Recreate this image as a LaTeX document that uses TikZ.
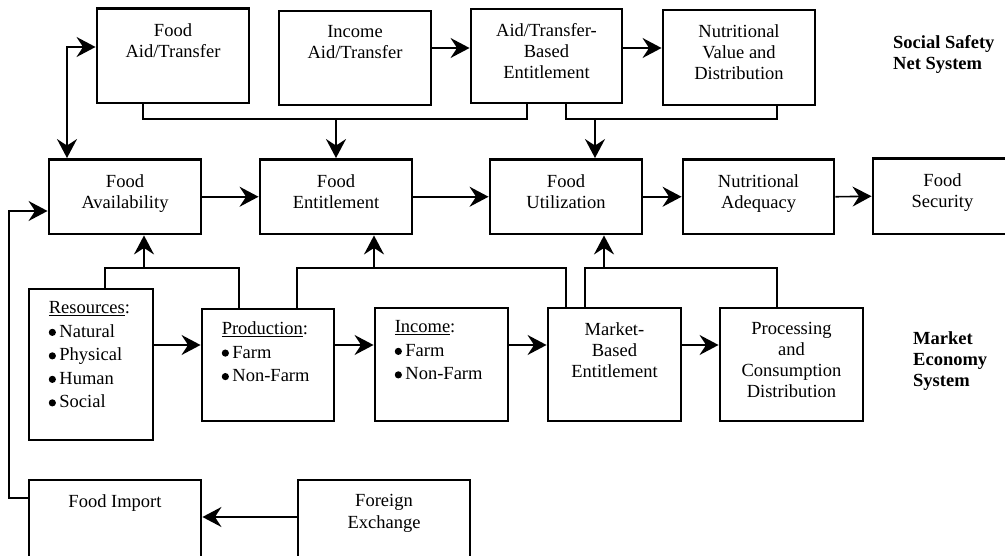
\documentclass[tikz,border=0pt]{standalone}
\usepackage{fontspec}
\setmainfont{Liberation Serif}
\usetikzlibrary{arrows.meta,calc,fit}
\newcommand\boxfont{\fontsize{18.5}{21}\selectfont}
\newcommand\listfont{\fontsize{18.5}{23.5}\selectfont}
\newcommand\bul{\tikz[baseline=-5pt]\fill (0,0) circle (3.6pt);\hspace{3.5pt}}
\tikzset{
  box/.style={draw, line width=2.9pt, inner sep=0pt},
  txt/.style={align=center, inner sep=0pt, anchor=north, font=\boxfont},
  ltxt/.style={align=left, inner sep=0pt, anchor=north west, font=\listfont},
  lbl/.style={align=left, inner sep=0pt, anchor=north west, font=\boxfont\bfseries},
  conn/.style={line width=1.6pt},
  tip/.tip={Stealth[length=19pt,width=20pt,inset=6.5pt]},
  arr/.style={conn, -tip},
  darr/.style={conn, tip-tip},
}
\newcommand\mybox[6]{%
  \node[box, fit={(#2,#3) (#4,#5)}] (#1) {};
  \node[txt] (#1t) at ($(#1.north)+(0,16)$) {#6};}
\begin{document}
\begin{tikzpicture}[x=1pt,y=-1pt]
\useasboundingbox (0,0) rectangle (1005,556);
\clip (0,0) rectangle (1005,556);
% top row
\mybox{fa}{97}{8.5}{249}{103}{Food\\Aid/Transfer}
\mybox{ia}{279}{11}{431}{105}{Income\\Aid/Transfer}
\mybox{atb}{471}{9}{622}{103}{Aid/Transfer-\\Based\\Entitlement}
\mybox{nv}{663}{10}{815}{105}{Nutritional\\Value and\\Distribution}
% middle row
\mybox{fav}{49}{159.5}{201}{234}{Food\\Availability}
\mybox{fen}{260}{159.5}{412}{234}{Food\\Entitlement}
\mybox{fu}{490}{159.5}{642}{234}{Food\\Utilization}
\mybox{na}{683}{159.5}{834}{234}{Nutritional\\Adequacy}
\mybox{fs}{873}{158.5}{1012}{234}{Food\\Security}
% market row
\node[box, fit={(29,289) (153,440)}] (res) {};
\node[ltxt] (rest) at ($(res.north west)+(21,14)$) {\underline{Resources}:\\\bul Natural\\\bul Physical\\\bul Human\\\bul Social};
\node[box, fit={(202,309) (334,421)}] (prod) {};
\node[ltxt] (prodt) at ($(prod.north west)+(21,14)$) {\underline{Production}:\\\bul Farm\\\bul Non-Farm};
\node[box, fit={(375,308) (508,421)}] (inc) {};
\node[ltxt] (inct) at ($(inc.north west)+(21,14)$) {\underline{Income}:\\\bul Farm\\\bul Non-Farm};
\mybox{mbe}{548}{308}{681}{421}{Market-\\Based\\Entitlement}
\mybox{proc}{720}{308}{863}{421}{Processing\\and\\Consumption\\Distribution}
% bottom row
\mybox{fi}{29}{480}{201}{570}{Food Import}
\mybox{fx}{298}{480}{470}{570}{Foreign\\Exchange}
% system labels
\node[lbl] (ssn) at (893,35) {Social Safety\\Net System};
\node[lbl] (mes) at (913,331) {Market\\Economy\\System};
% connectors: social safety net
\coordinate (c1) at (67,47);
\draw[darr] (fa.west |- c1) -- (c1) -- (c1 |- fav.north);
\coordinate (j1) at (143,119);
\coordinate (j2) at (527,119);
\draw[conn] (j1 |- fa.south) -- (j1) -- (j2) -- (j2 |- atb.south);
\draw[arr] (fen.north |- j1) -- (fen.north);
\coordinate (j3) at (566,119);
\coordinate (j4) at (777,119);
\draw[conn] (j3 |- atb.south) -- (j3) -- (j4) -- (j4 |- nv.south);
\coordinate (j5) at (595,119);
\draw[arr] (j5) -- (j5 |- fu.north);
\coordinate (r1) at (0,48);
\draw[arr] (ia.east |- r1) -- (atb.west |- r1);
\draw[arr] (atb.east |- r1) -- (nv.west |- r1);
% middle row
\draw[arr] (fav.east) -- (fen.west);
\draw[arr] (fen.east) -- (fu.west);
\draw[arr] (fu.east) -- (na.west);
\draw[arr] (na.east) -- (fs.west);
% import feedback
\coordinate (k1) at (9,498);
\coordinate (k2) at (9,211);
\draw[arr] (fi.west |- k1) -- (k1) -- (k2) -- (fav.west |- k2);
\coordinate (f1) at (0,517);
\draw[arr] (fx.west |- f1) -- (fi.east |- f1);
% market economy connectors
\coordinate (m1) at (105,268);
\coordinate (m2) at (239,268);
\draw[conn] (m1 |- res.north) -- (m1) -- (m2) -- (m2 |- prod.north);
\coordinate (m3) at (144,268);
\draw[arr] (m3) -- (m3 |- fav.south);
\coordinate (m4) at (297,268);
\coordinate (m5) at (566,268);
\draw[conn] (m4 |- prod.north) -- (m4) -- (m5) -- (m5 |- mbe.north);
\coordinate (m6) at (374,268);
\draw[arr] (m6) -- (m6 |- fen.south);
\coordinate (m7) at (585,268);
\coordinate (m8) at (777,268);
\draw[conn] (m7 |- mbe.north) -- (m7) -- (m8) -- (m8 |- proc.north);
\coordinate (m9) at (604,268);
\draw[arr] (m9) -- (m9 |- fu.south);
\coordinate (r3) at (0,345);
\draw[arr] (res.east |- r3) -- (prod.west |- r3);
\draw[arr] (prod.east |- r3) -- (inc.west |- r3);
\draw[arr] (inc.east |- r3) -- (mbe.west |- r3);
\draw[arr] (mbe.east |- r3) -- (proc.west |- r3);
\end{tikzpicture}
\end{document}
